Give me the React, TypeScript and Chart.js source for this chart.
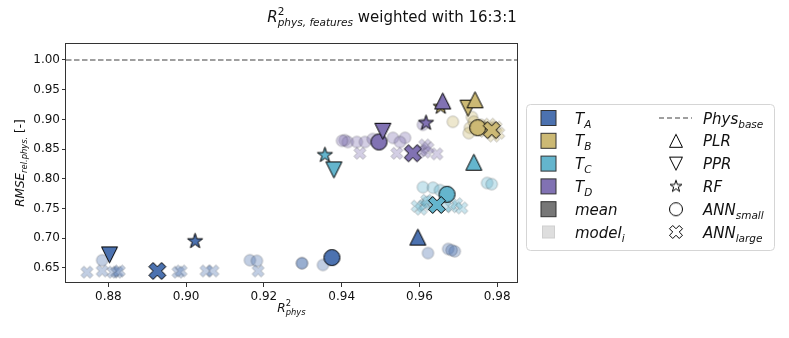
import React, { useEffect, useRef } from "react";
import { Chart, registerables } from "chart.js";
Chart.register(...registerables);

// ---------------- data ----------------
const targetKeys = ["A", "B", "C", "D"];
const targetColors = ["#4c72b0", "#ccb974", "#64b5cd", "#8172b3"];
const methodNames = ["PLR", "PPR", "RF", "ANN_small", "ANN_large"];

const xTickValues = [0.88, 0.9, 0.92, 0.94, 0.96, 0.98];
const yTickValues = [0.65, 0.7, 0.75, 0.8, 0.85, 0.9, 0.95, 1.0];
const xRange = [0.8691, 0.9851];
const yRange = [0.6247, 1.0286];
const physBase = 1.0;

// mean per method: PLR, PPR, RF, ANN_small, ANN_large
const meanR2_A = [0.9596, 0.8803, 0.9023, 0.9375, 0.8926];
const meanRMSE_A = [0.702, 0.672, 0.695, 0.6675, 0.645];
const meanR2_B = [0.9743, 0.9725, 0.9655, 0.975, 0.9786];
const meanRMSE_B = [0.933, 0.919, 0.921, 0.886, 0.882];
const meanR2_C = [0.974, 0.938, 0.9357, 0.9671, 0.9645];
const meanRMSE_C = [0.828, 0.815, 0.84, 0.774, 0.756];
const meanR2_D = [0.966, 0.9506, 0.9617, 0.9496, 0.9583];
const meanRMSE_D = [0.931, 0.88, 0.894, 0.862, 0.843];

// individual models (ANN_small = circles, ANN_large = crosses)
const modelSmallR2_A = [0.8784, 0.9164, 0.9182, 0.9298, 0.9298, 0.9352, 0.9622, 0.9674, 0.9691, 0.9683];
const modelSmallRMSE_A = [0.663, 0.663, 0.662, 0.658, 0.658, 0.655, 0.675, 0.682, 0.678, 0.68];
const modelLargeR2_A = [0.8745, 0.8784, 0.8812, 0.8822, 0.8828, 0.8979, 0.8987, 0.9051, 0.9069, 0.9185];
const modelLargeRMSE_A = [0.643, 0.645, 0.643, 0.643, 0.645, 0.643, 0.645, 0.645, 0.645, 0.645];

const modelSmallR2_B = [0.9686, 0.9735, 0.973, 0.9727, 0.9745, 0.9758, 0.9763, 0.974];
const modelSmallRMSE_B = [0.896, 0.904, 0.886, 0.877, 0.886, 0.891, 0.886, 0.896];
const modelLargeR2_B = [0.9776, 0.9786, 0.9797, 0.9804, 0.9791, 0.9781, 0.9768];
const modelLargeRMSE_B = [0.886, 0.879, 0.887, 0.877, 0.872, 0.892, 0.88];

const modelSmallR2_C = [0.9609, 0.9635, 0.9653, 0.9622, 0.9774, 0.9786, 0.9666];
const modelSmallRMSE_C = [0.786, 0.785, 0.781, 0.761, 0.793, 0.791, 0.771];
const modelLargeR2_C = [0.9594, 0.9604, 0.9614, 0.9619, 0.9683, 0.9696, 0.9709, 0.9666];
const modelLargeRMSE_C = [0.754, 0.749, 0.756, 0.764, 0.753, 0.758, 0.751, 0.754];

const modelSmallR2_D = [0.9408, 0.9416, 0.9439, 0.946, 0.948, 0.9532, 0.9563, 0.955, 0.9609, 0.9401];
const modelSmallRMSE_D = [0.865, 0.862, 0.862, 0.862, 0.867, 0.869, 0.869, 0.862, 0.891, 0.864];
const modelLargeR2_D = [0.9447, 0.9542, 0.9614, 0.9614, 0.9645, 0.9604, 0.9622];
const modelLargeRMSE_D = [0.843, 0.843, 0.857, 0.845, 0.842, 0.848, 0.852];

const meanR2 = [meanR2_A, meanR2_B, meanR2_C, meanR2_D];
const meanRMSE = [meanRMSE_A, meanRMSE_B, meanRMSE_C, meanRMSE_D];
const modelSmallR2 = [modelSmallR2_A, modelSmallR2_B, modelSmallR2_C, modelSmallR2_D];
const modelSmallRMSE = [modelSmallRMSE_A, modelSmallRMSE_B, modelSmallRMSE_C, modelSmallRMSE_D];
const modelLargeR2 = [modelLargeR2_A, modelLargeR2_B, modelLargeR2_C, modelLargeR2_D];
const modelLargeRMSE = [modelLargeRMSE_A, modelLargeRMSE_B, modelLargeRMSE_C, modelLargeRMSE_D];

// ---------------- helpers ----------------
const FONT = '"DejaVu Sans", sans-serif';
const methodShapes = ["triUp", "triDown", "star", "circle", "X"];
const methodDrawOrder = [3, 4, 2, 1, 0];

function rgba(hex: string, a: number) {
  const n = parseInt(hex.slice(1), 16);
  return `rgba(${(n >> 16) & 255},${(n >> 8) & 255},${n & 255},${a})`;
}

function makeMarker(shape: string, size: number, fill: string, stroke: string, lw = 1): HTMLCanvasElement {
  const dim = Math.ceil(size + lw + 4);
  const c = document.createElement("canvas");
  c.width = dim;
  c.height = dim;
  const ctx = c.getContext("2d")!;
  ctx.translate(dim / 2, dim / 2);
  const h = size / 2;
  ctx.beginPath();
  if (shape === "triUp") {
    ctx.moveTo(0, -h);
    ctx.lineTo(h, h);
    ctx.lineTo(-h, h);
    ctx.closePath();
  } else if (shape === "triDown") {
    ctx.moveTo(0, h);
    ctx.lineTo(h, -h);
    ctx.lineTo(-h, -h);
    ctx.closePath();
  } else if (shape === "star") {
    for (let i = 0; i < 10; i++) {
      const r = i % 2 ? h * 0.382 : h;
      const ang = -Math.PI / 2 + (i * Math.PI) / 5;
      const px = Math.cos(ang) * r;
      const py = Math.sin(ang) * r;
      if (i === 0) ctx.moveTo(px, py);
      else ctx.lineTo(px, py);
    }
    ctx.closePath();
  } else if (shape === "X") {
    const a = h / 0.943;
    const w = a / 3;
    const pts = [
      [w, a], [w, w], [a, w], [a, -w], [w, -w], [w, -a],
      [-w, -a], [-w, -w], [-a, -w], [-a, w], [-w, w], [-w, a],
    ];
    const cs = Math.SQRT1_2;
    pts.forEach(([px, py], i) => {
      const rx = px * cs - py * cs;
      const ry = px * cs + py * cs;
      if (i === 0) ctx.moveTo(rx, ry);
      else ctx.lineTo(rx, ry);
    });
    ctx.closePath();
  } else {
    ctx.arc(0, 0, h, 0, Math.PI * 2);
  }
  ctx.fillStyle = fill;
  ctx.fill();
  ctx.lineWidth = lw;
  ctx.strokeStyle = stroke;
  ctx.stroke();
  return c;
}

type Seg = { t: string; it?: boolean; s: number; dy?: number; na?: boolean };

function segFont(g: Seg) {
  return `${g.it ? "italic " : ""}${g.s}px ${FONT}`;
}
function richWidth(ctx: CanvasRenderingContext2D, segs: Seg[]) {
  let w = 0;
  for (const g of segs) {
    if (g.na) continue;
    ctx.font = segFont(g);
    w += ctx.measureText(g.t).width;
  }
  return w;
}
function drawRich(ctx: CanvasRenderingContext2D, segs: Seg[], x: number, y: number, align: "left" | "center") {
  let cx = align === "center" ? x - richWidth(ctx, segs) / 2 : x;
  ctx.textAlign = "left";
  ctx.textBaseline = "alphabetic";
  for (const g of segs) {
    ctx.font = segFont(g);
    ctx.fillText(g.t, cx, y + (g.dy || 0));
    if (!g.na) cx += ctx.measureText(g.t).width;
  }
}

const titleSegs: Seg[] = [
  { t: "R", it: true, s: 15 },
  { t: "2", s: 10.5, dy: -7, na: true },
  { t: "phys, features", it: true, s: 10.5, dy: 4 },
  { t: " weighted with 16:3:1", s: 15 },
];
const xTitleSegs: Seg[] = [
  { t: "R", it: true, s: 12 },
  { t: "2", s: 8.4, dy: -6, na: true },
  { t: "phys", it: true, s: 8.4, dy: 3 },
];
const yTitleSegs: Seg[] = [
  { t: "RMSE", it: true, s: 12 },
  { t: "rel.phys.", it: true, s: 8.4, dy: 3 },
  { t: " [-]", s: 12 },
];

const LS = 15;
const LSS = 10.5;
const legendLeftLabels: Seg[][] = [
  ...targetKeys.map((k) => [{ t: "T", it: true, s: LS }, { t: k, it: true, s: LSS, dy: 4 }]),
  [{ t: "mean", it: true, s: LS }],
  [{ t: "model", it: true, s: LS }, { t: "i", it: true, s: LSS, dy: 4 }],
];
const legendRightLabels: Seg[][] = [
  [{ t: "Phys", it: true, s: LS }, { t: "base", it: true, s: LSS, dy: 4 }],
  [{ t: "PLR", it: true, s: LS }],
  [{ t: "PPR", it: true, s: LS }],
  [{ t: "RF", it: true, s: LS }],
  [{ t: "ANN", it: true, s: LS }, { t: "small", it: true, s: LSS, dy: 4 }],
  [{ t: "ANN", it: true, s: LS }, { t: "large", it: true, s: LSS, dy: 4 }],
];
const legendPatchFills = [...targetColors, "#777777", "#dedede"];
const legendRightShapes = ["line", "triUp", "triDown", "star", "circle", "X"];

const decorPlugin = {
  id: "decor",
  afterDraw(chart: any) {
    const ctx: CanvasRenderingContext2D = chart.ctx;
    const ca = chart.chartArea;
    ctx.save();
    // frame
    ctx.strokeStyle = "#333";
    ctx.lineWidth = 1;
    ctx.strokeRect(Math.round(ca.left) - 0.5, Math.round(ca.top) + 0.5, Math.round(ca.right - ca.left) + 1, Math.round(ca.bottom - ca.top) - 1);
    ctx.fillStyle = "#111";
    // title
    drawRich(ctx, titleSegs, 392, 22, "center");
    // x title
    drawRich(ctx, xTitleSegs, (ca.left + ca.right) / 2, 312, "center");
    // y title
    ctx.save();
    ctx.translate(24, (ca.top + ca.bottom) / 2);
    ctx.rotate(-Math.PI / 2);
    drawRich(ctx, yTitleSegs, 0, 0, "center");
    ctx.restore();

    // legend
    const bx = 526.5, by = 104.5, bw = 248, bh = 146, r = 4;
    ctx.beginPath();
    ctx.moveTo(bx + r, by);
    ctx.arcTo(bx + bw, by, bx + bw, by + bh, r);
    ctx.arcTo(bx + bw, by + bh, bx, by + bh, r);
    ctx.arcTo(bx, by + bh, bx, by, r);
    ctx.arcTo(bx, by, bx + bw, by, r);
    ctx.closePath();
    ctx.fillStyle = "rgba(255,255,255,0.85)";
    ctx.fill();
    ctx.strokeStyle = "#d5d5d5";
    ctx.lineWidth = 1;
    ctx.stroke();

    const rowY = (i: number) => 118 + i * 22.8;
    legendLeftLabels.forEach((lab, i) => {
      const cy = rowY(i);
      const isModel = i === 5;
      const ps = isModel ? 12 : 15;
      ctx.fillStyle = legendPatchFills[i];
      ctx.fillRect(548.5 - ps / 2, cy - ps / 2, ps, ps);
      ctx.strokeStyle = isModel ? "#cfcfcf" : "#333";
      ctx.lineWidth = 1;
      ctx.strokeRect(548.5 - ps / 2, cy - ps / 2, ps, ps);
      ctx.fillStyle = "#111";
      drawRich(ctx, lab, 575, cy + 5.5, "left");
    });
    legendRightLabels.forEach((lab, i) => {
      const cy = rowY(i);
      const shape = legendRightShapes[i];
      if (shape === "line") {
        ctx.save();
        ctx.strokeStyle = "#808080";
        ctx.lineWidth = 1.5;
        ctx.setLineDash([5, 3]);
        ctx.beginPath();
        ctx.moveTo(659, cy);
        ctx.lineTo(692, cy);
        ctx.stroke();
        ctx.restore();
      } else {
        const sz = shape === "star" ? 12.5 : 13;
        const m = makeMarker(shape, sz, "#ffffff", "#000", 1);
        ctx.drawImage(m, 676 - m.width / 2, cy - m.height / 2);
      }
      ctx.fillStyle = "#111";
      drawRich(ctx, lab, 703, cy + 5.5, "left");
    });
    ctx.restore();
  },
};

export default function App() {
  const ref = useRef<HTMLCanvasElement | null>(null);
  useEffect(() => {
    document.body.style.margin = "0";
    const canvas = ref.current!;
    const list: any[] = [];
    list.push({
      type: "line",
      data: [
        { x: xRange[0], y: physBase },
        { x: xRange[1], y: physBase },
      ],
      showLine: true,
      borderColor: "#808080",
      borderWidth: 1.5,
      borderDash: [5.5, 2.5],
      pointRadius: 0,
      fill: false,
    });
    // individual models (faded)
    targetColors.forEach((col, t) => {
      const cm = makeMarker("circle", 11.5, rgba(col, 0.35), "rgba(0,0,0,0.22)", 1);
      const xm = makeMarker("X", 12, rgba(col, 0.35), "rgba(0,0,0,0.22)", 1);
      list.push({
        type: "scatter",
        data: modelSmallR2[t].map((x, i) => ({ x, y: modelSmallRMSE[t][i] })),
        pointStyle: cm,
      });
      list.push({
        type: "scatter",
        data: modelLargeR2[t].map((x, i) => ({ x, y: modelLargeRMSE[t][i] })),
        pointStyle: xm,
      });
    });
    // means
    targetColors.forEach((col, t) => {
      methodDrawOrder.forEach((m) => {
        const shape = methodShapes[m];
        const size = shape === "X" ? 17 : 16;
        const mk = makeMarker(shape, size, col, "#000", 1);
        list.push({
          type: "scatter",
          label: `T_${targetKeys[t]} ${methodNames[m]}`,
          data: [{ x: meanR2[t][m], y: meanRMSE[t][m] }],
          pointStyle: mk,
        });
      });
    });
    const N = list.length;
    list.forEach((d, i) => {
      d.order = N - i;
      d.pointRadius = d.pointRadius ?? 6;
      d.pointHoverRadius = d.pointRadius;
    });

    const chart = new Chart(canvas, {
      type: "scatter",
      data: { datasets: list },
      options: {
        animation: false,
        responsive: true,
        maintainAspectRatio: false,
        devicePixelRatio: 1,
        events: [],
        layout: { padding: { left: 0, right: 272, top: 43, bottom: 25 } },
        plugins: { legend: { display: false }, tooltip: { enabled: false }, title: { display: false } },
        scales: {
          x: {
            type: "linear",
            min: xRange[0],
            max: xRange[1],
            afterBuildTicks: (s: any) => {
              s.ticks = xTickValues.map((v) => ({ value: v }));
            },
            afterFit: (s: any) => {
              s.height = 30;
            },
            ticks: {
              callback: (v: any) => Number(v).toFixed(2),
              font: { family: FONT, size: 12 },
              color: "#111",
              padding: 3,
              maxRotation: 0,
              autoSkip: false,
            },
            grid: { drawOnChartArea: false, tickLength: 4, color: "#333" },
            border: { display: false },
          },
          y: {
            type: "linear",
            min: yRange[0],
            max: yRange[1],
            afterBuildTicks: (s: any) => {
              s.ticks = yTickValues.map((v) => ({ value: v }));
            },
            afterFit: (s: any) => {
              s.width = 66;
            },
            ticks: {
              callback: (v: any) => Number(v).toFixed(2),
              font: { family: FONT, size: 12 },
              color: "#111",
              padding: 2,
              autoSkip: false,
            },
            grid: { drawOnChartArea: false, tickLength: 4, color: "#333" },
            border: { display: false },
          },
        },
      } as any,
      plugins: [decorPlugin],
    });
    return () => chart.destroy();
  }, []);
  return (
    <div style={{ position: "absolute", left: 0, top: 0, width: 789, height: 338, background: "#fff" }}>
      <canvas ref={ref} />
    </div>
  );
}
